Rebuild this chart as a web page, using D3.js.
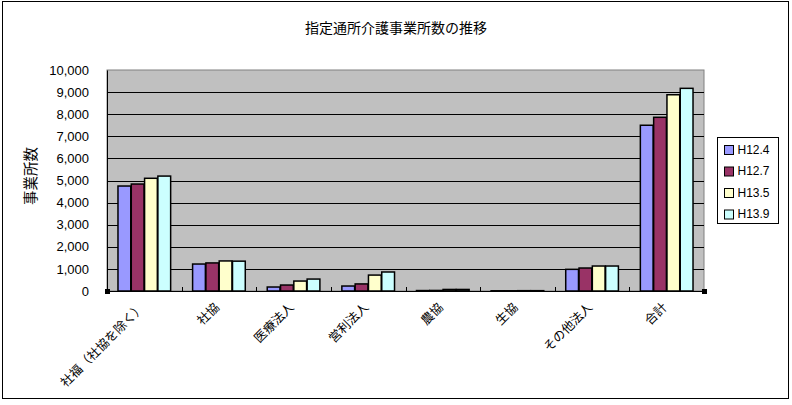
<!DOCTYPE html>
<html>
<head>
<meta charset="utf-8">
<script src="https://cdn.jsdelivr.net/npm/d3@7"></script>
<style>
body { margin: 0; background: #fff; }
text { font-family: "Liberation Sans", Arial, sans-serif; fill: #000; }
.jp { font-family: "Noto Sans CJK JP", sans-serif; }
</style>
</head>
<body>
<script>
// 指定通所介護事業所数の推移
var categories = ["社福（社協を除く）", "社協", "医療法人", "営利法人", "農協", "生協", "その他法人", "合計"];
var seriesNames = ["H12.4", "H12.7", "H13.5", "H13.9"];
var h12_4 = [4750, 1220, 180, 225, 20, 10, 980, 7500];
var h12_7 = [4840, 1270, 270, 320, 25, 10, 1040, 7860];
var h13_5 = [5100, 1360, 450, 720, 70, 15, 1130, 8880];
var h13_9 = [5200, 1350, 540, 860, 70, 15, 1130, 9170];
var yTicks = [0, 1000, 2000, 3000, 4000, 5000, 6000, 7000, 8000, 9000, 10000];
var colors = ["#9999FF", "#993366", "#FFFFCC", "#CCFFFF"];

var series = [h12_4, h12_7, h13_5, h13_9];

var width = 792, height = 405,
    plot = {left: 107, right: 704, top: 70, bottom: 291};

var svg = d3.select("body").append("svg").attr("width", width).attr("height", height);

// outer frame
svg.append("rect").attr("x", 2.5).attr("y", 1.5).attr("width", 786).attr("height", 397)
  .attr("fill", "#fff").attr("stroke", "#000").attr("stroke-width", 1);

var x = d3.scaleBand().domain(categories).range([plot.left, plot.right]).paddingInner(0.28).paddingOuter(0.14);
var xs = d3.scaleBand().domain(seriesNames).range([0, x.bandwidth()]).padding(0.04);
var y = d3.scaleLinear().domain([0, 10000]).range([plot.bottom, plot.top]);

// plot background
svg.append("rect").attr("x", plot.left).attr("y", plot.top)
  .attr("width", plot.right - plot.left).attr("height", plot.bottom - plot.top)
  .attr("fill", "#C0C0C0").attr("stroke", "#808080");

// gridlines
svg.append("g").selectAll("line").data(yTicks.slice(1, -1)).enter().append("line")
  .attr("x1", plot.left).attr("x2", plot.right)
  .attr("y1", function(d){ return Math.round(y(d)) + 0.5; })
  .attr("y2", function(d){ return Math.round(y(d)) + 0.5; })
  .attr("stroke", "#000").attr("stroke-width", 1);

// y axis
var yAxis = d3.axisLeft(y).tickValues(yTicks).tickSize(0).tickPadding(18).tickFormat(d3.format(","));
svg.append("g").attr("transform", "translate(" + plot.left + ",0)").call(yAxis)
  .call(function(g){
    g.select(".domain").attr("stroke", "#000");
    g.selectAll("text").attr("font-size", 13).attr("fill", "#000")
      .style("font-family", "'Liberation Sans', Arial, sans-serif");
  });

// bars
var groups = svg.append("g").selectAll("g").data(series).enter().append("g")
  .attr("fill", function(d, i){ return colors[i]; });
groups.each(function(vals, si){
  d3.select(this).selectAll("rect").data(vals).enter().append("rect")
    .attr("x", function(d, i){ return x(categories[i]) + xs(seriesNames[si]); })
    .attr("y", function(d){ return y(d); })
    .attr("width", xs.bandwidth())
    .attr("height", function(d){ return plot.bottom - y(d); })
    .attr("stroke", "#000").attr("stroke-width", 1.5);
});

// x axis line and inner ticks between categories
svg.append("line").attr("x1", plot.left).attr("x2", plot.right)
  .attr("y1", plot.bottom + 0.5).attr("y2", plot.bottom + 0.5).attr("stroke", "#000");
var step = x.step();
svg.append("g").selectAll("line").data(categories.slice(1)).enter().append("line")
  .attr("x1", function(d){ return Math.round(x(d) - (step - x.bandwidth()) / 2) + 0.5; })
  .attr("x2", function(d){ return Math.round(x(d) - (step - x.bandwidth()) / 2) + 0.5; })
  .attr("y1", plot.bottom).attr("y2", plot.bottom - 4)
  .attr("stroke", "#000");

// small corner handles
[[plot.left, plot.bottom], [plot.right, plot.bottom]].forEach(function(p){
  svg.append("rect").attr("x", p[0] - 2).attr("y", p[1] - 2).attr("width", 5).attr("height", 5).attr("fill", "#000");
});

// category labels
svg.append("g").selectAll("text").data(categories).enter().append("text")
  .attr("class", "jp")
  .attr("transform", function(d){ return "translate(" + (x(d) + x.bandwidth() / 2 - 2) + "," + 305 + ") rotate(-45)"; })
  .attr("text-anchor", "end")
  .attr("dy", "0.35em")
  .attr("font-size", 12.5)
  .attr("fill", "#000")
  .text(function(d){ return d; });

// title
svg.append("text").attr("class", "jp").attr("x", 396).attr("y", 33)
  .attr("text-anchor", "middle").attr("font-size", 14).attr("fill", "#000").text("指定通所介護事業所数の推移");

// y label
svg.append("text").attr("class", "jp")
  .attr("transform", "translate(36,176) rotate(-90)")
  .attr("text-anchor", "middle").attr("font-size", 14.5).attr("fill", "#000").text("事業所数");

// legend
var legend = svg.append("g").attr("transform", "translate(717.5,137.5)");
legend.append("rect").attr("width", 61).attr("height", 86).attr("fill", "#fff").attr("stroke", "#000");
var items = legend.selectAll("g").data(seriesNames).enter().append("g")
  .attr("transform", function(d, i){ return "translate(7," + (12 + i * 21.5) + ")"; });
items.append("rect").attr("x", 0).attr("y", -4).attr("width", 9).attr("height", 9)
  .attr("fill", function(d, i){ return colors[i]; }).attr("stroke", "#000");
items.append("text").attr("x", 13).attr("y", 0).attr("dy", "0.35em")
  .attr("font-size", 12).attr("fill", "#000").text(function(d){ return d; });
</script>
</body>
</html>
